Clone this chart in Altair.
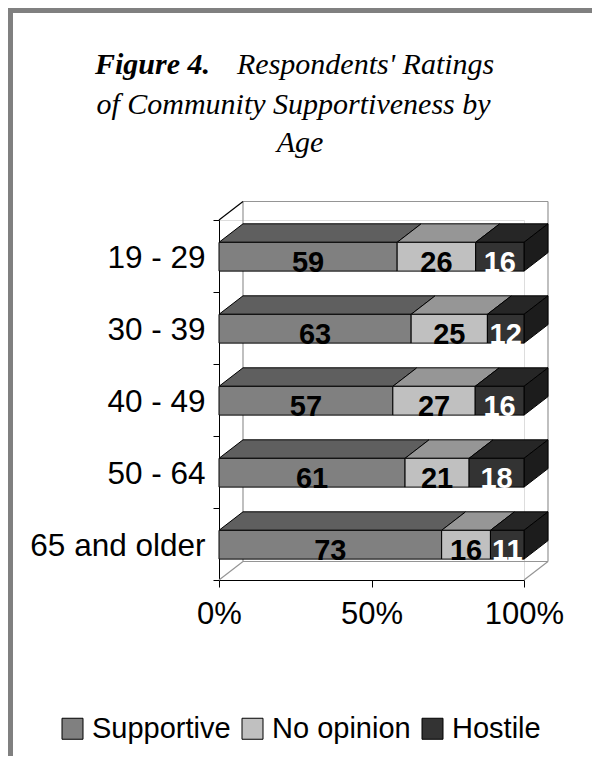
import altair as alt
import pandas as pd

# ---- data ----
AGES = ["19 - 29", "30 - 39", "40 - 49", "50 - 64", "65 and older"]
SERIES = ["Supportive", "No opinion", "Hostile"]
SUPPORTIVE = [59, 63, 57, 61, 73]
NO_OPINION = [26, 25, 27, 21, 16]
HOSTILE = [16, 12, 16, 18, 11]
X_TICKS = [0, 50, 100]
TITLE_BOLD = "Figure 4."
TITLE_LINE1 = "Respondents' Ratings"
TITLE_LINE2 = "of Community Supportiveness by"
TITLE_LINE3 = "Age"

# ---- style ----
FRONT_COLORS = ["#808080", "#c0c0c0", "#333333"]
TOP_COLORS = ["#5f5f5f", "#969696", "#262626"]
SIDE_COLOR = "#1c1c1c"
WALL_COLOR = "#959595"
W, H = 305, 360
DX = 24 / W * 100            # 3-D depth in x data units
DY = 18.5 / (H / len(AGES))  # 3-D depth in row units
BAR_TOP, BAR_BOTTOM = 0.31, 0.71
SANS = "Liberation Sans"
SERIF = "Liberation Serif"

# ---- derived tables ----
values = {"Supportive": SUPPORTIVE, "No opinion": NO_OPINION, "Hostile": HOSTILE}
top_color = dict(zip(SERIES, TOP_COLORS))
front, top, side = [], [], []
for i, age in enumerate(AGES):
    total = sum(values[s][i] for s in SERIES)
    cum = 0
    for s in SERIES:
        v = values[s][i]
        x0 = cum / total * 100
        cum += v
        x1 = cum / total * 100
        seg = f"{i}-{s}"
        front.append(dict(age=age, series=s, value=v, x0=x0, x1=x1, xm=(x0 + x1) / 2,
                          y0=i + BAR_TOP, y1=i + BAR_BOTTOM))
        top.append(dict(seg=seg, tc=top_color[s], y=i + BAR_TOP, xa=x0, xb=x1))
        top.append(dict(seg=seg, tc=top_color[s], y=i + BAR_TOP - DY, xa=x0 + DX, xb=x1 + DX))
    side.append(dict(row=i, x=100, ya=i + BAR_TOP, yb=i + BAR_BOTTOM))
    side.append(dict(row=i, x=100 + DX, ya=i + BAR_TOP - DY, yb=i + BAR_BOTTOM - DY))
front = pd.DataFrame(front)
top = pd.DataFrame(top)
side = pd.DataFrame(side)
n = len(AGES)
wall = pd.DataFrame([
    dict(xa=DX, xb=100 + DX, ya=-DY, yb=-DY),
    dict(xa=DX, xb=100 + DX, ya=n - DY, yb=n - DY),
    dict(xa=DX, xb=DX, ya=-DY, yb=n - DY),
    dict(xa=100 + DX, xb=100 + DX, ya=-DY, yb=n - DY),
    dict(xa=0, xb=DX, ya=n, yb=n - DY),
    dict(xa=100, xb=100 + DX, ya=n, yb=n - DY),
])
wall_top = pd.DataFrame([dict(xa=0, xb=DX, ya=0, yb=-DY)])

X_SCALE = alt.Scale(domain=[0, 100], nice=False, zero=False)
Y_SCALE = alt.Scale(domain=[0, n], reverse=True, nice=False, zero=False)
X_AXIS = alt.Axis(values=X_TICKS, labelExpr="datum.value + '%'", title=None, grid=False,
                  domainColor="black", domainWidth=1, tickColor="black", tickSize=7,
                  labelFont=SANS, labelFontSize=31, labelColor="black", labelPadding=12,
                  labelFlush=False)

walls = alt.Chart(wall).mark_rule(color=WALL_COLOR, strokeWidth=1.2).encode(
    x=alt.X("xa:Q", scale=X_SCALE, axis=X_AXIS), x2="xb:Q",
    y=alt.Y("ya:Q", scale=Y_SCALE, axis=None), y2="yb:Q")

wall_diag = alt.Chart(wall_top).mark_rule(color="black", strokeWidth=1.2).encode(
    x=alt.X("xa:Q", scale=X_SCALE, axis=X_AXIS), x2="xb:Q",
    y=alt.Y("ya:Q", scale=Y_SCALE, axis=None), y2="yb:Q")

tops = alt.Chart(top).mark_area(orient="horizontal", stroke="black", strokeWidth=1,
                                strokeJoin="miter").encode(
    y=alt.Y("y:Q", scale=Y_SCALE, axis=None),
    x=alt.X("xa:Q", scale=X_SCALE, axis=X_AXIS, stack=None), x2="xb:Q",
    detail="seg:N",
    fill=alt.Fill("tc:N", scale=None))

sides = alt.Chart(side).mark_area(orient="vertical", stroke="black", strokeWidth=1,
                                  fill=SIDE_COLOR, strokeJoin="miter").encode(
    x=alt.X("x:Q", scale=X_SCALE, axis=X_AXIS),
    y=alt.Y("ya:Q", scale=Y_SCALE, axis=None, stack=None), y2="yb:Q",
    detail="row:N")

fronts = alt.Chart(front).mark_rect(stroke="black", strokeWidth=1).encode(
    x=alt.X("x0:Q", scale=X_SCALE, axis=X_AXIS), x2="x1:Q",
    y=alt.Y("y0:Q", scale=Y_SCALE, axis=None), y2="y1:Q",
    color=alt.Color("series:N", scale=alt.Scale(domain=SERIES, range=FRONT_COLORS),
                    legend=alt.Legend(orient="none", direction="horizontal", title=None,
                                      legendX=-161, legendY=494, symbolType="square",
                                      symbolSize=441, symbolStrokeColor="black",
                                      symbolStrokeWidth=1, symbolOpacity=1,
                                      labelFont=SANS, labelFontSize=29, labelColor="black",
                                      labelOffset=5, columnPadding=7, padding=0,
                                      labelLimit=300)))

lab_base = alt.Chart(front).mark_text(font=SANS, fontSize=29, fontWeight="bold",
                                      baseline="alphabetic", align="center", dy=1)
labels_dark = lab_base.transform_filter(alt.datum.series != "Hostile").encode(
    x=alt.X("xm:Q", scale=X_SCALE, axis=X_AXIS),
    y=alt.Y("y1:Q", scale=Y_SCALE, axis=None),
    text="value:Q", color=alt.value("black"))
labels_light = lab_base.transform_filter(alt.datum.series == "Hostile").encode(
    x=alt.X("xm:Q", scale=X_SCALE, axis=X_AXIS),
    y=alt.Y("y1:Q", scale=Y_SCALE, axis=None),
    text="value:Q", color=alt.value("white"))

cat_axis = alt.Chart(pd.DataFrame({"age": AGES})).mark_bar(opacity=0).encode(
    y=alt.Y("age:N", sort=AGES,
            scale=alt.Scale(type="band", paddingInner=0, paddingOuter=0),
            axis=alt.Axis(title=None, tickBand="extent", tickSize=6, tickColor="black",
                          domainColor="black", domainWidth=1, labelFont=SANS,
                          labelFontSize=31.5, labelColor="black", labelPadding=8,
                          labelOffset=2, labelLimit=300)),
    x=alt.value(0), x2=alt.value(1))

title_bold = alt.Chart(pd.DataFrame({"t": [TITLE_BOLD]})).mark_text(
    font=SERIF, fontSize=30, fontStyle="italic", fontWeight="bold",
    align="left", baseline="alphabetic", color="black").encode(
    text="t:N", x=alt.value(-124), y=alt.value(-146))
title_l1 = alt.Chart(pd.DataFrame({"t": [TITLE_LINE1]})).mark_text(
    font=SERIF, fontSize=30, fontStyle="italic", align="left",
    baseline="alphabetic", color="black").encode(
    text="t:N", x=alt.value(18), y=alt.value(-146))
title_l2 = alt.Chart(pd.DataFrame({"t": [TITLE_LINE2]})).mark_text(
    font=SERIF, fontSize=30, fontStyle="italic", align="center",
    baseline="alphabetic", color="black").encode(
    text="t:N", x=alt.value(74.5), y=alt.value(-106))
title_l3 = alt.Chart(pd.DataFrame({"t": [TITLE_LINE3]})).mark_text(
    font=SERIF, fontSize=30, fontStyle="italic", align="center",
    baseline="alphabetic", color="black").encode(
    text="t:N", x=alt.value(81), y=alt.value(-68))

border_left = alt.Chart(pd.DataFrame({"k": [0]})).mark_rule(
    color="#808080", strokeWidth=5).encode(
    x=alt.value(-208.5), y=alt.value(-212), y2=alt.value(H + 176))
border_top = alt.Chart(pd.DataFrame({"k": [0]})).mark_rule(
    color="#808080", strokeWidth=5).encode(
    x=alt.value(-211), x2=alt.value(W + 68), y=alt.value(-209.5))

chart = alt.layer(
    walls, tops, sides, fronts, labels_dark, labels_light, wall_diag, cat_axis,
    title_bold, title_l1, title_l2, title_l3, border_left, border_top
).resolve_scale(y="independent").properties(
    width=W, height=H,
    autosize=alt.AutoSizeParams(type="none"),
    padding={"left": 211, "top": 212, "right": 68, "bottom": 176},
).configure_view(stroke=None).configure(background="white")

chart.save("out.html", embed_options={"renderer": "svg", "actions": False})
